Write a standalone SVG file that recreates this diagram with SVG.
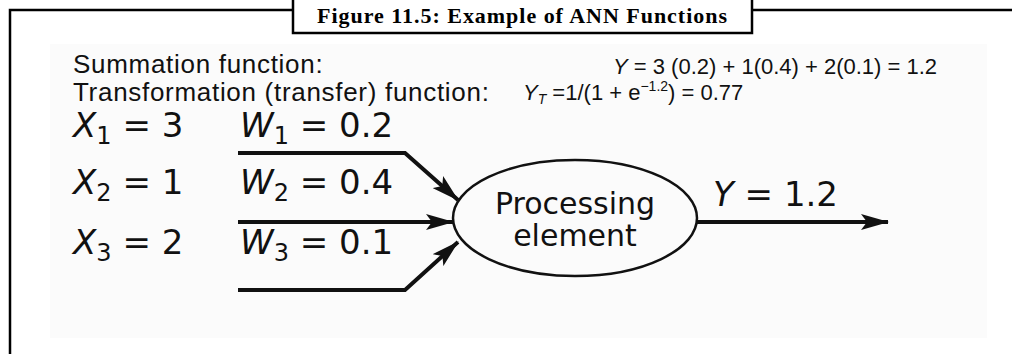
<svg xmlns="http://www.w3.org/2000/svg" width="1012" height="354" viewBox="0 0 1012 354">
<style>
.frame{fill:none;stroke:#000;stroke-width:2.5}
.desc{font-family:"Liberation Sans",Arial,sans-serif;font-size:26px;letter-spacing:0.7px;fill:#111}
.eq{font-family:"Liberation Sans",Arial,sans-serif;font-size:22px;fill:#111}
.big{font-family:"DejaVu Sans",sans-serif;font-size:34px;fill:#111}
.pe{font-family:"DejaVu Sans",sans-serif;font-size:30px;fill:#111}
.wire{fill:none;stroke:#111;stroke-width:4;stroke-linejoin:miter}
.title{font-family:"Liberation Serif","Times New Roman",serif;font-weight:bold;font-size:22px;fill:#000}
</style>
<defs>
<marker id="ah" viewBox="0 0 28 16" refX="27" refY="8" markerWidth="28" markerHeight="16" markerUnits="userSpaceOnUse" orient="auto">
<path d="M0,0 L28,8 L0,16 L6,8 z" fill="#111"/>
</marker>
</defs>
<g id="frame">
<path class="frame" d="M10,354 V10 H1012"/>
<rect x="50" y="44" width="937" height="294" fill="#fbfbfb"/>
</g>
<g id="title">
<rect x="293" y="-3" width="459" height="36" fill="#fff" stroke="#000" stroke-width="2.5"/>
<text class="title" x="522" y="23" text-anchor="middle" textLength="410" lengthAdjust="spacing">Figure 11.5: Example of ANN Functions</text>
</g>
<g id="summation">
<text class="desc" x="73" y="73">Summation function:</text>
<text class="eq" x="613" y="74"><tspan font-style="italic">Y</tspan> = 3 (0.2)  + 1(0.4) + 2(0.1) = 1.2</text>
</g>
<g id="transformation">
<text class="desc" x="73" y="101">Transformation (transfer) function:</text>
<text class="eq" x="523" y="100"><tspan font-style="italic">Y</tspan><tspan font-style="italic" font-size="14" dy="4">T</tspan><tspan dy="-4"> =1/(1 + e</tspan><tspan font-size="14" dy="-9">−1.2</tspan><tspan dy="9">) = 0.77</tspan></text>
</g>
<g id="input1">
<text class="big" x="73" y="137"><tspan font-style="italic">X</tspan><tspan font-size="24" dy="7">1</tspan><tspan dy="-7"> = 3</tspan></text>
<text class="big" x="240" y="137"><tspan font-style="italic">W</tspan><tspan font-size="24" dy="7">1</tspan><tspan dy="-7"> = 0.2</tspan></text>
</g>
<g id="input2">
<text class="big" x="73" y="194"><tspan font-style="italic">X</tspan><tspan font-size="24" dy="7">2</tspan><tspan dy="-7"> = 1</tspan></text>
<text class="big" x="240" y="194"><tspan font-style="italic">W</tspan><tspan font-size="24" dy="7">2</tspan><tspan dy="-7"> = 0.4</tspan></text>
</g>
<g id="input3">
<text class="big" x="73" y="254"><tspan font-style="italic">X</tspan><tspan font-size="24" dy="7">3</tspan><tspan dy="-7"> = 2</tspan></text>
<text class="big" x="240" y="254"><tspan font-style="italic">W</tspan><tspan font-size="24" dy="7">3</tspan><tspan dy="-7"> = 0.1</tspan></text>
</g>
<g id="processing-element">
<ellipse cx="575" cy="218" rx="122" ry="58" fill="none" stroke="#111" stroke-width="2.5"/>
<text class="pe" x="575" y="214" text-anchor="middle">Processing</text>
<text class="pe" x="575" y="246" text-anchor="middle">element</text>
</g>
<g id="output-label">
<text class="big" x="713" y="206"><tspan font-style="italic">Y</tspan> = 1.2</text>
</g>
<g id="connectors">
<path class="wire" d="M238,153 H405 L458,200" marker-end="url(#ah)"/>
<path class="wire" d="M238,222 H453" marker-end="url(#ah)"/>
<path class="wire" d="M238,290 H405 L458,242" marker-end="url(#ah)"/>
<path class="wire" d="M697,222 H888" marker-end="url(#ah)"/>
</g>
</svg>
